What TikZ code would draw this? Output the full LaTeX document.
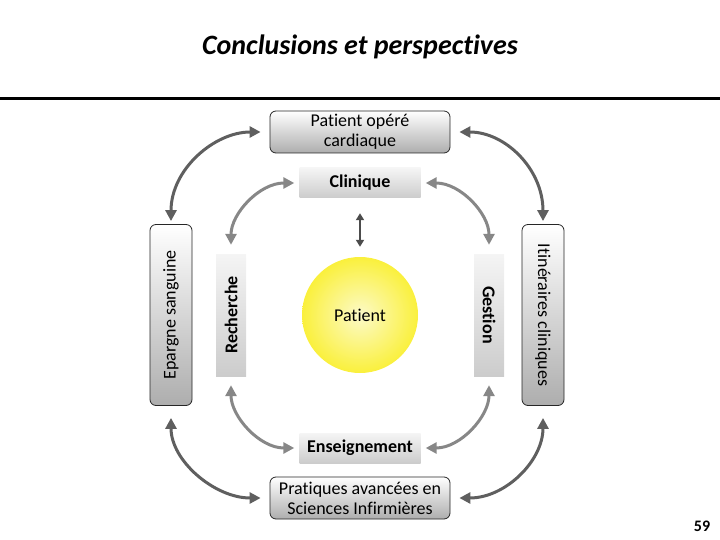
\documentclass[tikz,border=0pt]{standalone}
\usepackage{fontspec}
\setmainfont{Carlito}[Ligatures=NoCommon]
\usetikzlibrary{arrows.meta}
\definecolor{yelout}{RGB}{250,240,60}
\definecolor{yelin}{RGB}{252,250,200}
\definecolor{outgray}{RGB}{95,95,95}
\definecolor{ingray}{RGB}{135,135,135}
\begin{document}
\begin{tikzpicture}[x=1pt,y=-1pt,
  txt/.style={font=\fontsize{18}{20}\selectfont, align=center, inner sep=0pt},
  roundbox/.style={txt, draw=black!85, line width=0.8pt, rounded corners=6pt,
    top color=white, bottom color=black!32},
  flatbox/.style={txt, font=\fontsize{18}{20}\selectfont\bfseries,
    top color=black!4, bottom color=black!20},
  outarr/.style={draw=outgray, line width=3pt,
    {Triangle[length=11pt,width=11pt]}-{Triangle[length=11pt,width=11pt]}},
  inarr/.style={draw=ingray, line width=3pt,
    {Triangle[length=11pt,width=11pt]}-{Triangle[length=11pt,width=11pt]}},
  smallarr/.style={draw=black!70, line width=2.5pt,
    {Triangle[length=7pt,width=8pt]}-{Triangle[length=7pt,width=8pt]}}
]
\useasboundingbox (0,0) rectangle (720,540);

% title and rule
\node[font=\fontsize{28}{32}\selectfont\bfseries\itshape] (title) at (360,47) {Conclusions et perspectives};
\coordinate (ruleL) at (0,99);
\coordinate (ruleR) at (720,99);
\draw[line width=3pt] (ruleL) -- (ruleR);

% outer boxes
\node[roundbox, minimum width=180pt, minimum height=42pt] (PO) at (360,132) {Patient opéré\\cardiaque};
\node[roundbox, minimum width=180pt, minimum height=42pt] (PA) at (360,498) {Pratiques avancées en\\Sciences Infirmières};
\node[roundbox, rotate=90, minimum width=181pt, minimum height=42pt] (EP) at (171,315) {Epargne sanguine};
\node[roundbox, rotate=-90, minimum width=181pt, minimum height=42pt] (IT) at (543,315) {Itinéraires cliniques};

% inner boxes
\node[flatbox, minimum width=121pt, minimum height=30pt] (CL) at (360,183) {Clinique};
\node[flatbox, minimum width=121pt, minimum height=30pt] (EN) at (360,448) {Enseignement};
\node[flatbox, rotate=90, minimum width=122pt, minimum height=30pt] (RE) at (231,315) {Recherche};
\node[flatbox, rotate=-90, minimum width=122pt, minimum height=30pt] (GE) at (489,315) {Gestion};

% patient circle
\node[circle, minimum size=116pt, inner sep=0pt, inner color=yelin, outer color=yelout,
  font=\fontsize{18}{20}\selectfont] (PT) at (360,315) {Patient};

% outer arrows
\draw[outarr, shorten <=3pt, shorten >=9pt] (EP.east) .. controls +(0,-55) and +(-55,0) .. (PO.west);
\draw[outarr, shorten <=9pt, shorten >=3pt] (PO.east) .. controls +(55,0) and +(0,-55) .. (IT.west);
\draw[outarr, shorten <=12pt, shorten >=9pt] (EP.west) .. controls +(0,55) and +(-55,0) .. (PA.west);
\draw[outarr, shorten <=9pt, shorten >=12pt] (PA.east) .. controls +(55,0) and +(0,55) .. (IT.east);

% inner arrows
\draw[inarr, shorten <=9pt, shorten >=5pt] (RE.east) .. controls +(0,-40) and +(-40,0) .. (CL.west);
\draw[inarr, shorten <=5pt, shorten >=9pt] (CL.east) .. controls +(40,0) and +(0,-40) .. (GE.west);
\draw[inarr, shorten <=9pt, shorten >=5pt] (RE.west) .. controls +(0,40) and +(-40,0) .. (EN.west);
\draw[inarr, shorten <=5pt, shorten >=9pt] (EN.east) .. controls +(40,0) and +(0,40) .. (GE.east);

% small arrow
\draw[smallarr, shorten <=15pt, shorten >=10pt] (CL.south) -- (PT.north);

% page number
\node[font=\fontsize{16}{18}\selectfont\bfseries] (pg) at (702,526) {59};
\end{tikzpicture}
\end{document}
